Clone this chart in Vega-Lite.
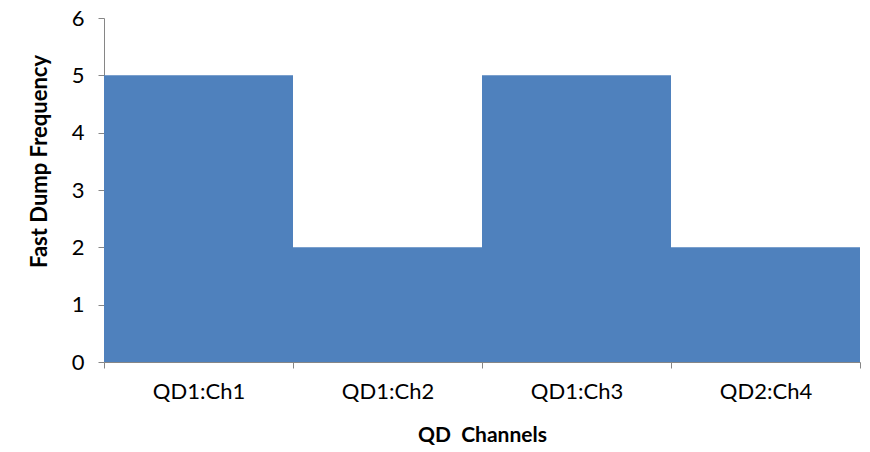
{
  "$schema": "https://vega.github.io/schema/vega-lite/v6.json",
  "width": 756,
  "height": 344,
  "autosize": "none",
  "padding": {"left": 104, "top": 18, "right": 10, "bottom": 90},
  "background": "white",
  "data": {
    "values": [
      {"channel": "QD1:Ch1", "frequency": 5},
      {"channel": "QD1:Ch2", "frequency": 2},
      {"channel": "QD1:Ch3", "frequency": 5},
      {"channel": "QD2:Ch4", "frequency": 2}
    ]
  },
  "mark": {"type": "bar", "color": "#4F81BD"},
  "encoding": {
    "x": {
      "field": "channel",
      "type": "nominal",
      "sort": null,
      "scale": {"paddingInner": 0, "paddingOuter": 0},
      "axis": {
        "title": "QD\u00a0 Channels",
        "labelAngle": 0,
        "tickBand": "extent",
        "tickSize": 6,
        "domainColor": "#868686",
        "tickColor": "#868686",
        "labelFont": "Lato",
        "labelFontSize": 22,
        "labelColor": "#000000",
        "labelPadding": 13,
        "titleFont": "Lato",
        "titleFontSize": 21,
        "titleFontWeight": "bold",
        "titleColor": "#000000",
        "titlePadding": 22
      }
    },
    "y": {
      "field": "frequency",
      "type": "quantitative",
      "scale": {"domain": [0, 6]},
      "axis": {
        "title": "Fast Dump Frequency",
        "values": [0, 1, 2, 3, 4, 5, 6],
        "grid": false,
        "tickSize": 6,
        "domainColor": "#868686",
        "tickColor": "#868686",
        "labelFont": "Lato",
        "labelFontSize": 22,
        "labelColor": "#000000",
        "labelPadding": 14,
        "titleFont": "Lato",
        "titleFontSize": 22,
        "titleFontWeight": "bold",
        "titleColor": "#000000",
        "titlePadding": 20,
        "titleY": 143
      }
    }
  },
  "config": {"view": {"stroke": null}}
}
